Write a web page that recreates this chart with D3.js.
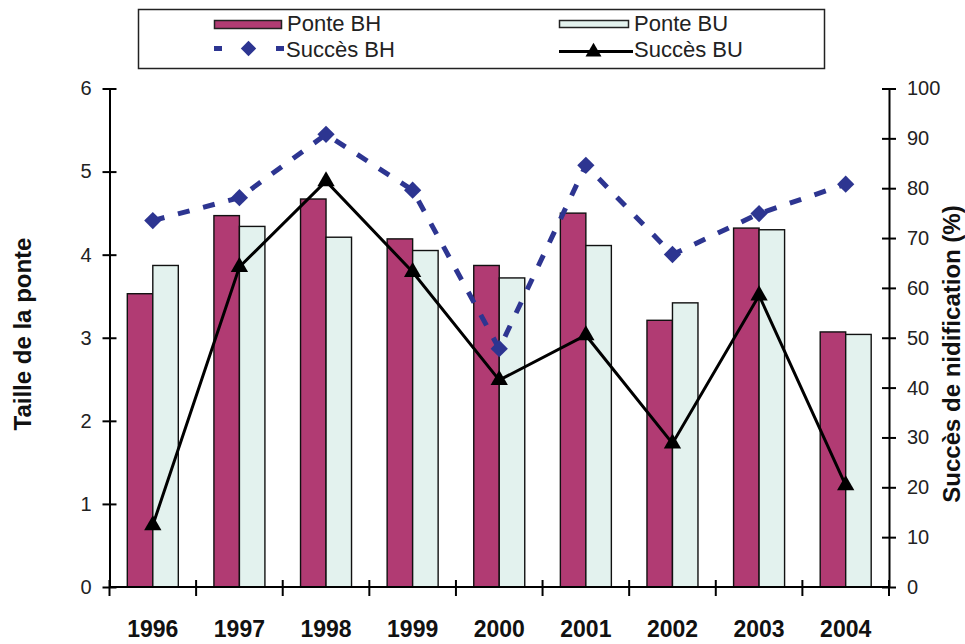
<!DOCTYPE html>
<html>
<head>
<meta charset="utf-8">
<script src="https://cdn.jsdelivr.net/npm/d3@7/dist/d3.min.js"></script>
<style>
  html, body { margin: 0; padding: 0; background: #fff; }
  svg { display: block; font-family: "Liberation Sans", Arial, sans-serif; }
</style>
</head>
<body>
<svg id="chart" width="965" height="644"></svg>
<script>
// Years and series
const years = ["1996", "1997", "1998", "1999", "2000", "2001", "2002", "2003", "2004"];
const ponteBH = [3.53, 4.47, 4.67, 4.19, 3.87, 4.50, 3.21, 4.32, 3.07];
const ponteBU = [3.87, 4.34, 4.21, 4.05, 3.72, 4.11, 3.42, 4.30, 3.04];
const succesBH = [73.5, 78.1, 90.8, 79.6, 47.8, 84.6, 66.7, 74.9, 80.8];
const succesBU = [12.4, 64.2, 81.4, 63.2, 41.5, 50.5, 28.8, 58.5, 20.4];
const leftTicks = [0, 1, 2, 3, 4, 5, 6];
const rightTicks = [0, 10, 20, 30, 40, 50, 60, 70, 80, 90, 100];

const colBH = "#b13b73";
const colBU = "#e3f2ee";
const colLine = "#2d3591";

const svg = d3.select("#chart");
const plotL = 109.5, plotR = 889, plotT = 88.5, plotB = 587;

const x = d3.scaleBand().domain(years).range([plotL, plotR]).padding(0);
const bw = x.bandwidth();
const groupW = 51;
const x1 = d3.scaleBand().domain(["BH", "BU"]).range([(bw - groupW) / 2, (bw + groupW) / 2]).padding(0);
const yL = d3.scaleLinear().domain([0, 6]).range([plotB, plotT]);
const yR = d3.scaleLinear().domain([0, 100]).range([plotB, plotT]);

// Bars
const g = svg.append("g");
const bars = years.map((yr, i) => ({ yr, bh: ponteBH[i], bu: ponteBU[i] }));
g.selectAll("rect.bh").data(bars).join("rect").attr("class", "bh")
  .attr("x", d => x(d.yr) + x1("BH"))
  .attr("y", d => yL(d.bh))
  .attr("width", x1.bandwidth())
  .attr("height", d => yL(0) - yL(d.bh))
  .attr("fill", colBH).attr("stroke", "#111").attr("stroke-width", 1.4);
g.selectAll("rect.bu").data(bars).join("rect").attr("class", "bu")
  .attr("x", d => x(d.yr) + x1("BU"))
  .attr("y", d => yL(d.bu))
  .attr("width", x1.bandwidth())
  .attr("height", d => yL(0) - yL(d.bu))
  .attr("fill", colBU).attr("stroke", "#111").attr("stroke-width", 1.4);

// Axes
const axL = d3.axisLeft(yL).tickValues(leftTicks).tickFormat(d3.format("d"))
  .tickSizeInner(6).tickSizeOuter(0).tickPadding(12);
const axR = d3.axisRight(yR).tickValues(rightTicks).tickFormat(d3.format("d"))
  .tickSizeInner(6).tickSizeOuter(0).tickPadding(12);

function styleAxis(sel) {
  sel.select(".domain").attr("stroke", "#000").attr("stroke-width", 2);
  sel.selectAll(".tick line").attr("stroke", "#000").attr("stroke-width", 2)
    .attr("x1", -7).attr("x2", 7);
  sel.selectAll(".tick text").attr("font-size", 20).attr("fill", "#222")
    .attr("font-family", "'Liberation Sans', Arial, sans-serif");
}
svg.append("g").attr("transform", `translate(${plotL},0)`).call(axL).call(styleAxis);
svg.append("g").attr("transform", `translate(${plotR},0)`).call(axR).call(styleAxis);

// Category axis with ticks at band edges
svg.append("line").attr("x1", plotL).attr("x2", plotR).attr("y1", plotB).attr("y2", plotB)
  .attr("stroke", "#000").attr("stroke-width", 2);
const edges = years.map(yr => x(yr)).concat([x(years[years.length - 1]) + bw]);
svg.selectAll("line.xt").data(edges).join("line").attr("class", "xt")
  .attr("x1", d => d).attr("x2", d => d).attr("y1", plotB - 7).attr("y2", plotB + 9)
  .attr("stroke", "#000").attr("stroke-width", 2);
svg.selectAll("text.yr").data(years).join("text").attr("class", "yr")
  .attr("x", d => x(d) + bw / 2).attr("y", 637)
  .attr("text-anchor", "middle").attr("font-size", 23).attr("font-weight", "bold")
  .attr("fill", "#111").text(d => d);

// Succès BH: dashed line with diamonds
const ptsBH = years.map((yr, i) => [x(yr) + bw / 2, yR(succesBH[i])]);
svg.append("path").attr("d", d3.line()(ptsBH))
  .attr("fill", "none").attr("stroke", colLine).attr("stroke-width", 5)
  .attr("stroke-dasharray", "12 14");
const diamond = d3.symbol().type(d3.symbolDiamond2).size(190);
svg.selectAll("path.dm").data(ptsBH).join("path").attr("class", "dm")
  .attr("d", diamond).attr("transform", d => `translate(${d[0]},${d[1]})`)
  .attr("fill", colLine);

// Succès BU: solid line with triangles
const ptsBU = years.map((yr, i) => [x(yr) + bw / 2, yR(succesBU[i])]);
svg.append("path").attr("d", d3.line()(ptsBU))
  .attr("fill", "none").attr("stroke", "#000").attr("stroke-width", 3);
const tri = d3.symbol().type(d3.symbolTriangle).size(130);
svg.selectAll("path.tr").data(ptsBU).join("path").attr("class", "tr")
  .attr("d", tri).attr("transform", d => `translate(${d[0]},${d[1]})`)
  .attr("fill", "#000");

// Axis titles
svg.append("text").attr("transform", "translate(31,334) rotate(-90)")
  .attr("text-anchor", "middle").attr("font-size", 24).attr("font-weight", "bold")
  .attr("fill", "#111").text("Taille de la ponte");
svg.append("text").attr("transform", "translate(960,354) rotate(-90)")
  .attr("text-anchor", "middle").attr("font-size", 24).attr("font-weight", "bold")
  .attr("fill", "#111").text("Succès de nidification (%)");

// Legend
const lg = svg.append("g");
lg.append("rect").attr("x", 138.5).attr("y", 9.5).attr("width", 686).attr("height", 59)
  .attr("fill", "#fff").attr("stroke", "#222").attr("stroke-width", 1.5);
lg.append("rect").attr("x", 214.5).attr("y", 20.5).attr("width", 67).attr("height", 8)
  .attr("fill", colBH).attr("stroke", "#222").attr("stroke-width", 1.5);
lg.append("rect").attr("x", 559.5).attr("y", 20.5).attr("width", 69).attr("height", 7)
  .attr("fill", colBU).attr("stroke", "#222").attr("stroke-width", 1.5);
lg.append("line").attr("x1", 214).attr("x2", 285).attr("y1", 48.5).attr("y2", 48.5)
  .attr("stroke", colLine).attr("stroke-width", 5).attr("stroke-dasharray", "8 18 0 36 8");
lg.append("path").attr("d", d3.symbol().type(d3.symbolDiamond2).size(150))
  .attr("transform", "translate(248.5,48.5)").attr("fill", colLine);
lg.append("line").attr("x1", 559).attr("x2", 633).attr("y1", 51.5).attr("y2", 51.5)
  .attr("stroke", "#000").attr("stroke-width", 3);
lg.append("path").attr("d", d3.symbol().type(d3.symbolTriangle).size(110))
  .attr("transform", "translate(593.5,52)").attr("fill", "#000");
const legText = [
  ["Ponte BH", 287, 31], ["Succès BH", 286, 57],
  ["Ponte BU", 634, 31], ["Succès BU", 634, 57]
];
lg.selectAll("text.lt").data(legText).join("text").attr("class", "lt")
  .attr("x", d => d[1]).attr("y", d => d[2])
  .attr("font-size", 22).attr("fill", "#222").text(d => d[0]);
</script>
</body>
</html>
